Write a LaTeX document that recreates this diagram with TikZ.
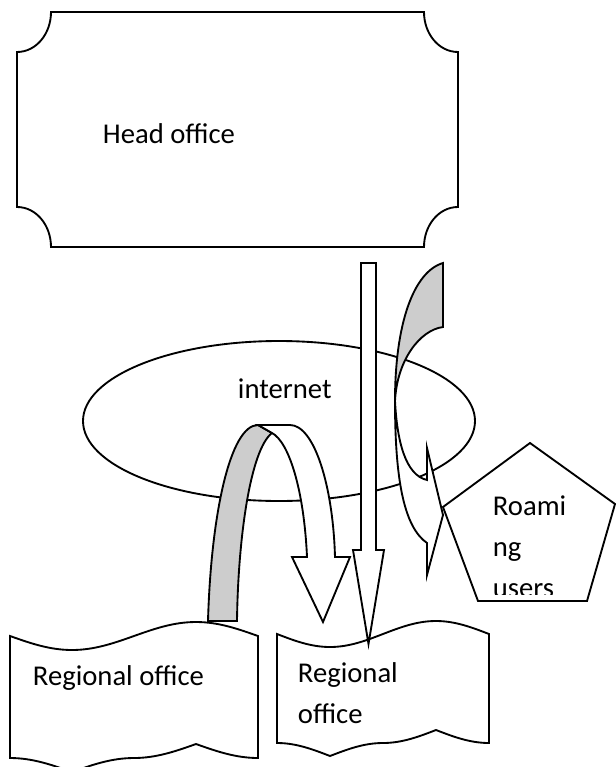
\documentclass[tikz,border=0pt]{standalone}
\usepackage{fontspec}
\setmainfont{Carlito}
\usetikzlibrary{shapes.geometric}
\definecolor{bandgray}{RGB}{205,205,205}
\begin{document}
\begin{tikzpicture}[x=0.75pt,y=-0.75pt,line width=1.4pt,
  shapebox/.style={draw=black,fill=white},
  backband/.style={draw=black,fill=bandgray},
  lbl/.style={font=\fontsize{21.5}{30.75}\selectfont,inner sep=0pt,anchor=base west}]
\useasboundingbox (0,0) rectangle (616,767);
\clip (0,0) rectangle (616,767);

% Head office plaque
\draw[shapebox] (51,12) -- (424,12) .. controls (424,34) and (439,52) .. (458,52)
  -- (458,207) .. controls (439,207) and (424,225) .. (424,247)
  -- (51,247) .. controls (51,225) and (36,207) .. (17,207)
  -- (17,52) .. controls (36,52) and (51,34) .. (51,12) -- cycle;
\node[lbl] (headtxt) at (102,143) {Head office};

% internet ellipse
\node[draw,ellipse,fill=white,minimum width=294pt,minimum height=120pt,inner sep=0pt] (net) at (279,421) {};
\node[lbl] (nettxt) at (237,398) {internet};

% Regional offices (punched tape)
\draw[shapebox] (10,636) sin (72,650) cos (134,636) sin (196,622) cos (258,636)
  -- (258,758) cos (196,744) sin (134,758) cos (72,772) sin (10,758) -- cycle;
\node[lbl] (reg1txt) at (32,685) {Regional office};

\draw[shapebox] (277,634) sin (330,647) cos (383,634) sin (436,621) cos (489,634)
  -- (489,743) cos (436,730) sin (383,743) cos (330,756) sin (277,743) -- cycle;
\node[lbl] (reg2txt) at (297,682)
  {\begin{tabular}[t]{@{}l@{}}Regional\\office\end{tabular}};

% straight down arrow
\draw[shapebox] (361,263) -- (376,263) -- (376,550) -- (384,550) -- (368.5,644)
  -- (353,550) -- (361,550) -- cycle;

% U-turn arrow
\draw[backband] (208,621) .. controls (211,515) and (230,425) .. (258,425)
  -- (272,433) .. controls (250,450) and (238,540) .. (237,621) -- cycle;
\draw[shapebox] (258,425) -- (290,425) .. controls (314,425) and (333,485) .. (335,557)
  -- (350,557) -- (323,622) -- (292,557) -- (307,557)
  .. controls (304,490) and (289,442) .. (272,433) -- cycle;

% curved arrow to roaming users
\draw[backband] (443,263) .. controls (413,272) and (395,325) .. (395,401)
  .. controls (397,360) and (420,330) .. (443,327) -- cycle;
\draw[shapebox] (395,401) .. controls (395,480) and (404,527) .. (427,543)
  -- (427,575) -- (443,515) -- (427,448) -- (427,480)
  .. controls (405,475) and (397,440) .. (395,401) -- cycle;

% Roaming users pentagon
\draw[shapebox] (530,443) -- (615,504) -- (587,601) -- (478,601) -- (443,507) -- cycle;
\begin{scope}
  \clip (440,440) rectangle (616,594);
  \node[lbl] (roamtxt) at (492,515)
    {\begin{tabular}[t]{@{}l@{}}Roami\\ng\\users\end{tabular}};
\end{scope}
\end{tikzpicture}
\end{document}
